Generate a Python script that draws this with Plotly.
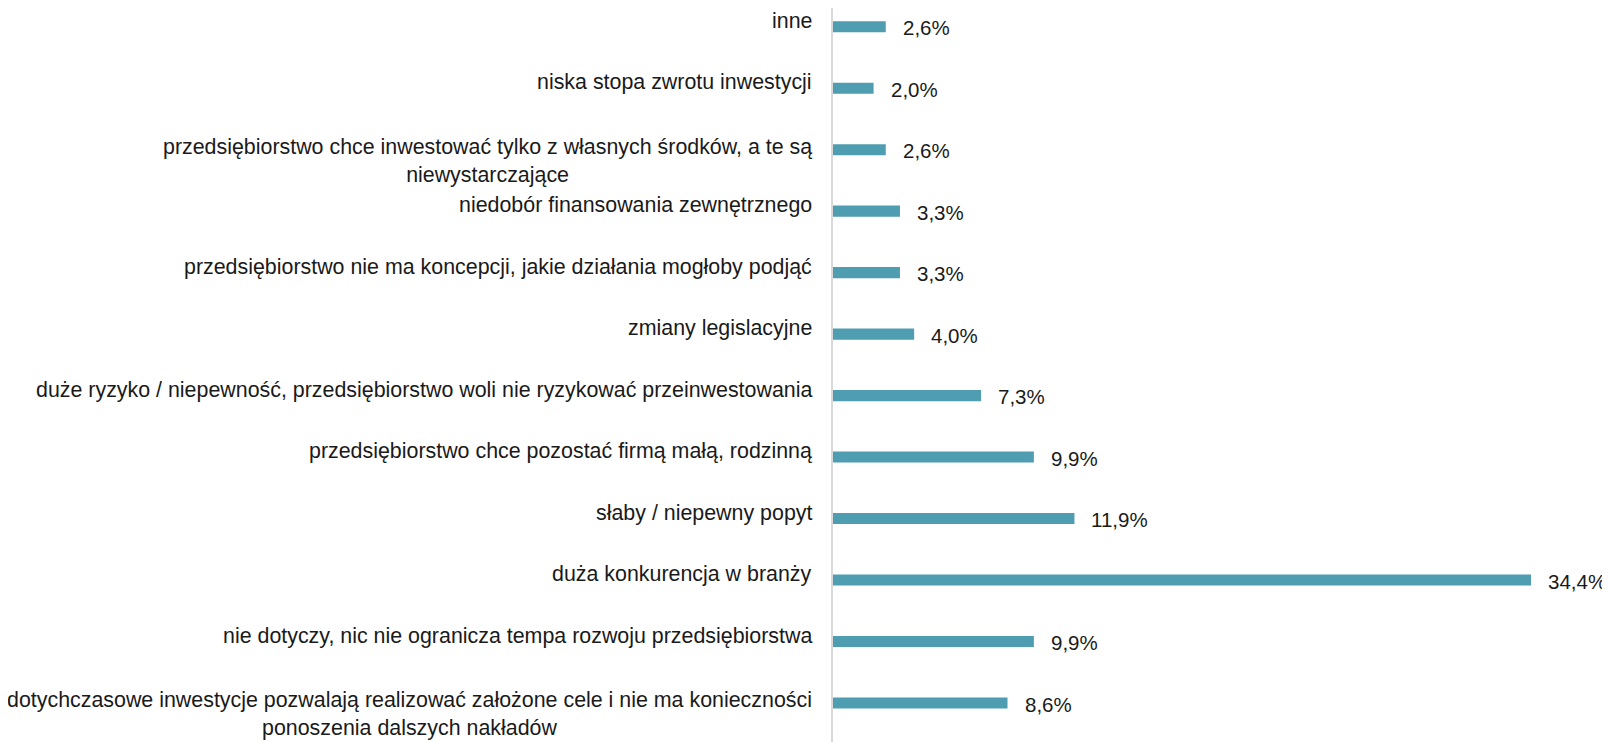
import plotly.graph_objects as go

# categories listed bottom -> top (plotly draws category 0 at the bottom)
categories = [
    "dotychczasowe inwestycje pozwalają realizować założone cele i nie ma konieczności<br>ponoszenia dalszych nakładów",
    "nie dotyczy, nic nie ogranicza tempa rozwoju przedsiębiorstwa",
    "duża konkurencja w branży",
    "słaby / niepewny popyt",
    "przedsiębiorstwo chce pozostać firmą małą, rodzinną",
    "duże ryzyko / niepewność, przedsiębiorstwo woli nie ryzykować przeinwestowania",
    "zmiany legislacyjne",
    "przedsiębiorstwo nie ma koncepcji, jakie działania mogłoby podjąć",
    "niedobór finansowania zewnętrznego",
    "przedsiębiorstwo chce inwestować tylko z własnych środków, a te są<br>niewystarczające",
    "niska stopa zwrotu inwestycji",
    "inne",
]
values = [8.6, 9.9, 34.4, 11.9, 9.9, 7.3, 4.0, 3.3, 3.3, 2.6, 2.0, 2.6]

BAR_COLOR = "#4F9DB1"
FONT = "Liberation Sans, Arial, sans-serif"

idx = list(range(len(categories)))

fig = go.Figure()
fig.add_trace(go.Bar(
    x=values, y=idx, orientation="h",
    marker=dict(color=BAR_COLOR, line=dict(width=0)),
    width=0.18, hoverinfo="skip",
))

annotations = []
for i, (cat, v) in enumerate(zip(categories, values)):
    two_lines = "<br>" in cat
    annotations.append(dict(
        xref="paper", x=0, yref="y", y=i, text=cat,
        xanchor="right", yanchor="middle", align="center",
        xshift=-19, yshift=-11 if two_lines else 6,
        showarrow=False, font=dict(family=FONT, size=21.4, color="#1a1a1a"),
    ))
    annotations.append(dict(
        xref="x", x=v, yref="y", y=i, text=f"{v:.1f}%".replace(".", ","),
        xanchor="left", yanchor="middle", xshift=15, yshift=-1,
        showarrow=False, font=dict(family=FONT, size=20.5, color="#1a1a1a"),
    ))

# the page body adds an 8px offset, so the figure is 8px smaller each way
fig.update_layout(
    width=1602, height=734,
    margin=dict(l=825, r=10, t=0, b=0),
    paper_bgcolor="white", plot_bgcolor="white",
    showlegend=False,
    annotations=annotations,
    xaxis=dict(range=[0, 37.8], showgrid=False, zeroline=False,
               showticklabels=False, showline=False),
    yaxis=dict(range=[-0.634, 11.304], showgrid=False, zeroline=False,
               showticklabels=False, showline=True, linecolor="#D9D9D9",
               linewidth=1.5, ticks=""),
)

fig.write_html("out.html")
